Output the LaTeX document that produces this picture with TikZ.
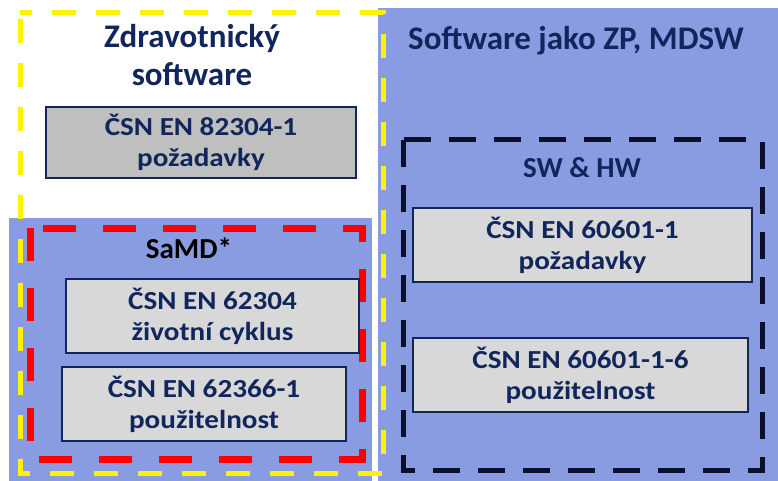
\documentclass[tikz,border=0pt]{standalone}
\usepackage{fontspec}
\setmainfont{Carlito}
\newfontfamily\normfont[FakeStretch=1.12]{Carlito}
\definecolor{panelblue}{RGB}{137,156,226}
\definecolor{navy}{RGB}{16,38,92}
\definecolor{darkgray1}{RGB}{191,191,191}
\definecolor{lightgray1}{RGB}{216,216,216}
\definecolor{frameblack}{RGB}{10,16,42}
\tikzset{
    normbox/.style={draw=navy, line width=1.8pt, fill=lightgray1, minimum width=#1, minimum height=74pt,
        align=center, text=navy, font=\normfont\fontsize{26}{31}\selectfont\bfseries, inner sep=0pt},
    normbox/.default=335pt,
    heading/.style={anchor=base, text=navy, font=\fontsize{33}{38}\selectfont\bfseries, inner sep=0pt}
}
\begin{document}
\begin{tikzpicture}[x=1pt,y=-1pt]
        \useasboundingbox (0,0) rectangle (778,481);
        \fill[white] (0,0) rectangle (778,481);

        % blue panels
        \fill[panelblue] (9,218) rectangle (372,481);
        \fill[panelblue] (378,8) rectangle (778,481);

        % dashed frames
        \draw[yellow, line width=5pt, dash pattern=on 24pt off 20pt, dash phase=-6pt] (20,13) rectangle (383,473);
        \draw[red, line width=7pt, dash pattern=on 33pt off 27pt] (30,228) rectangle (362,459);
        \draw[frameblack, line width=5pt, dash pattern=on 27pt off 18pt] (403,140) rectangle (762,470);

        % headings
        \node[heading] (zdr) at (192,48) {Zdravotnický};
        \node[heading] (sw) at (192,86) {software};
        \node[heading] (zp) at (576,50) {Software jako ZP, MDSW};
        \node[heading, font=\fontsize{29}{34}\selectfont\bfseries] (swhw) at (582,178) {SW \& HW};
        \node[heading, text=black, font=\fontsize{29}{34}\selectfont\bfseries] (samd) at (189,258) {SaMD*};

        % norms
        \node[normbox=310pt, fill=darkgray1, minimum height=71pt] (n82304) at (201,142.5) {ČSN EN 82304-1\\požadavky};
        \node[normbox=339pt] (n60601) at (582.5,245) {ČSN EN 60601-1\\požadavky};
        \node[normbox=335pt] (n606016) at (580.5,375) {ČSN EN 60601-1-6\\použitelnost};
        \node[normbox=293pt] (n62304) at (212.5,316) {ČSN EN 62304\\životní cyklus};
        \node[normbox=284pt] (n62366) at (204,404) {ČSN EN 62366-1\\použitelnost};
\end{tikzpicture}
\end{document}
